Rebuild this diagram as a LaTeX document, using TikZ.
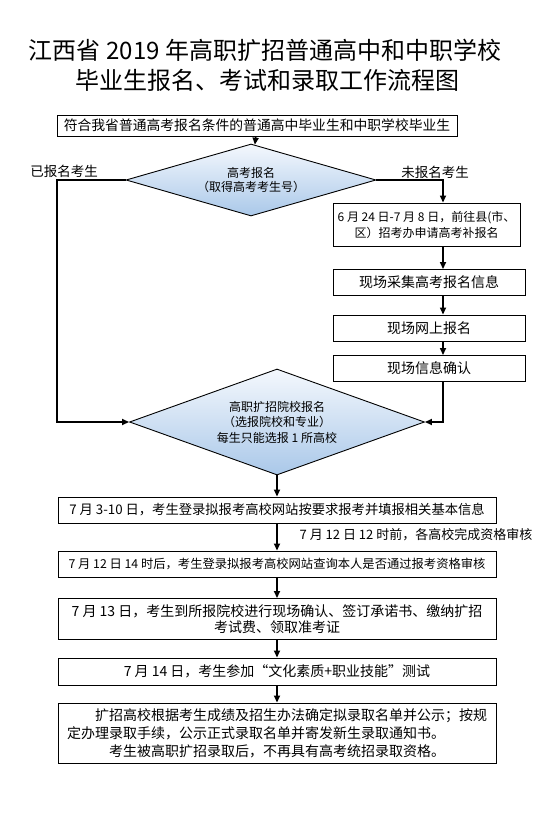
\documentclass[tikz,border=0pt]{standalone}
\usepackage{fontspec}
\setmainfont{Noto Sans CJK SC}
\usetikzlibrary{shapes.geometric, arrows.meta, positioning, calc}
\newcommand{\fsz}[2]{\fontsize{#1pt}{#2pt}\selectfont}
\definecolor{diatop}{RGB}{244,248,253}
\definecolor{diabot}{RGB}{170,200,233}

\begin{document}
\begin{tikzpicture}[x=1pt, y=-1pt,
    box/.style={draw, line width=0.9pt, inner sep=1pt, align=center,
                font=\fsz{14}{16}},
    wide/.style={box, minimum width=438pt},
    side/.style={box, minimum width=192pt, minimum height=26pt},
    dia/.style={diamond, draw, line width=0.9pt, inner sep=0pt, align=center,
                top color=diatop, bottom color=diabot},
    conn/.style={line width=1.6pt},
    arr/.style={conn, -{Triangle[length=7pt, width=6pt]}},
    tag/.style={font=\fsz{13.5}{16}}
]
  \useasboundingbox (0,0) rectangle (542,813);
  \fill[white] (0,0) rectangle (542,813);
  % title
  \node[font=\fsz{24}{28}] (t1) at (265,50) {江西省 2019 年高职扩招普通高中和中职学校};
  \node[font=\fsz{24}{28}] (t2) at (267,80) {毕业生报名、考试和录取工作流程图};
  % registration
  \node[box, minimum width=400pt, minimum height=21pt, font=\fsz{13.8}{16}] (start) at (257,125.5)
       {符合我省普通高考报名条件的普通高中毕业生和中职学校毕业生};
  \node[dia, minimum width=250pt, minimum height=72pt, aspect=3.4,
        font=\fsz{12}{14}] (exam) at (251,180) {高考报名\\（取得高考考生号）};
  \node[tag] (done) at (64,171) {已报名考生};
  \node[tag] (notyet) at (435,172) {未报名考生};
  \coordinate (lx) at (57,0);
  \coordinate (rx) at (443,0);
  % late registration column
  \node[box, minimum width=187pt, minimum height=43pt, font=\fsz{12}{16}] (late) at (426.5,224.5)
       {6 月 24 日-7 月 8 日，前往县(市、\\区）招考办申请高考补报名};
  \foreach \n/\y/\t in {collect/282.5/现场采集高考报名信息, online/328/现场网上报名,
                        confirm/368.5/现场信息确认}
    \node[side] (\n) at (429,\y) {\t};
  % college application
  \node[dia, minimum width=295pt, minimum height=106pt, aspect=2.8,
        font=\fsz{12}{15.5}] (apply) at (277,422)
       {高职扩招院校报名\\（选报院校和专业）\\每生只能选报 1 所高校};
  % steps
  \node[wide, minimum height=26pt, font=\fsz{13.3}{16}] (web) at (277,510)
       {7 月 3-10 日，考生登录拟报考高校网站按要求报考并填报相关基本信息};
  \node[wide, minimum height=26pt, font=\fsz{12.3}{15}] (check) at (277,564)
       {7 月 12 日 14 时后，考生登录拟报考高校网站查询本人是否通过报考资格审核};
  \node[wide, minimum height=41pt] (site) at (277,619)
       {7 月 13 日，考生到所报院校进行现场确认、签订承诺书、缴纳扩招\\考试费、领取准考证};
  \node[wide, minimum height=27pt] (test) at (277,671.5)
       {7 月 14 日，考生参加“文化素质+职业技能”测试};
  \node[wide, minimum height=60pt, text width=420pt, align=left, inner xsep=9pt,
        font=\fsz{14}{18}] (admit) at (277,733)
       {\hspace*{2em}扩招高校根据考生成绩及招生办法确定拟录取名单并公示；按规\\
        定办理录取手续，公示正式录取名单并寄发新生录取通知书。\\
        \makebox[\linewidth][c]{考生被高职扩招录取后，不再具有高考统招录取资格。}};
  \node[font=\fsz{13}{16}] (audit) at (416,535) {7 月 12 日 12 时前，各高校完成资格审核};
  % connectors
  \draw[arr] (start) -- (exam);
  \draw[arr] (exam.west) -- (exam.west -| lx) -- (apply.west -| lx) -- (apply.west);
  \draw[arr] (exam.east) -| (late.north -| rx);
  \foreach \a/\b in {late/collect, collect/online, online/confirm}
    \draw[arr] (\a.south -| rx) -- (\b.north -| rx);
  \draw[arr] (confirm.south -| rx) |- (apply.east);
  \draw[arr] (apply) -- (web);
  \foreach \a/\b in {web/check, check/site, site/test, test/admit}
    \draw[arr] (\a) -- (\b);
\end{tikzpicture}
\end{document}
